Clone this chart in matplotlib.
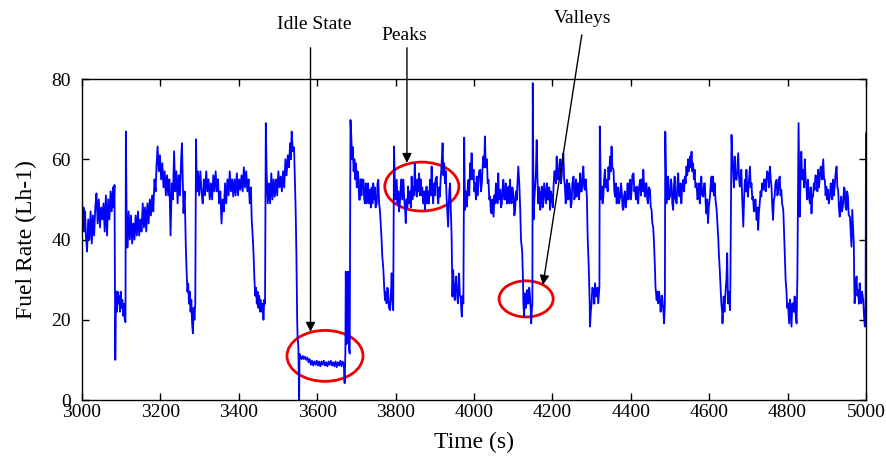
import matplotlib.pyplot as plt
from matplotlib.patches import Ellipse

plt.rcParams['font.family'] = ['Liberation Serif', 'DejaVu Serif']

# fuel rate trace as (time [s], fuel rate [L/h]) pairs, one list per drive cycle
cycle_1 = [(3000, 46), (3002, 43), (3004, 48), (3006, 42), (3008, 47), (3010, 41), (3013, 37), (3016, 45),
           (3019, 40), (3022, 47), (3025, 39), (3028, 46), (3031, 41), (3034, 48), (3037, 51.5), (3040, 44),
           (3043, 50), (3046, 43), (3049, 48), (3052, 45), (3055, 49), (3058, 42), (3061, 51), (3064, 41),
           (3067, 50), (3070, 45), (3073, 52), (3076, 47), (3079, 53), (3081, 48), (3083, 53.6), (3084, 29.5),
           (3085, 10), (3087, 27), (3089, 22), (3091, 27), (3093, 24), (3095, 26), (3097, 22), (3099, 27),
           (3101, 23), (3103, 25), (3105, 21), (3107, 24), (3109, 20), (3111, 19.4), (3112, 66.9), (3114, 45),
           (3116, 38), (3119, 47), (3122, 40), (3125, 46), (3128, 39), (3131, 44), (3134, 40), (3137, 46),
           (3140, 41), (3143, 47), (3146, 41), (3149, 45), (3152, 42), (3155, 49), (3158, 43), (3161, 48),
           (3164, 42), (3167, 49), (3170, 44), (3173, 50), (3176, 46), (3179, 51), (3182, 47), (3185, 55),
           (3188, 52), (3190, 58), (3193, 63.2), (3196, 57), (3199, 61), (3202, 55), (3205, 59), (3208, 53),
           (3211, 57), (3214, 51), (3217, 56), (3220, 51), (3223, 55), (3226, 41), (3229, 54), (3232, 50),
           (3235, 62), (3238, 52), (3241, 57), (3244, 49), (3247, 56), (3250, 51), (3253, 60), (3255, 64),
           (3257, 55), (3259, 46.6), (3262, 52), (3265, 38), (3267, 32), (3269, 27), (3271, 29), (3273, 24),
           (3275, 27), (3277, 22), (3279, 25), (3281, 19), (3283, 16.6), (3285, 23), (3287, 20), (3289, 24),
           (3291, 65)]

cycle_2 = [(3293, 52), (3296, 57), (3299, 51), (3302, 57), (3305, 52), (3308, 49), (3311, 55), (3314, 51),
           (3317, 57), (3320, 52), (3323, 55), (3326, 50), (3329, 54), (3332, 50), (3335, 56), (3338, 52),
           (3341, 57), (3344, 52), (3347, 55), (3350, 49), (3353, 52), (3356, 44), (3359, 50), (3362, 47),
           (3365, 54), (3368, 49), (3371, 55), (3374, 51), (3377, 57), (3380, 52), (3383, 55), (3386, 50.7),
           (3389, 55), (3392, 51), (3395, 56.5), (3398, 51), (3401, 55), (3404, 52.4), (3407, 56), (3410, 52),
           (3413, 58), (3416, 53), (3419, 57), (3422, 52), (3425, 55), (3428, 49), (3431, 53), (3433, 45),
           (3436, 40), (3438, 35.7), (3440, 30), (3442, 26), (3444, 28), (3446, 24), (3448, 27), (3450, 23),
           (3452, 26), (3454, 22), (3456, 25), (3459, 22), (3461, 24), (3463, 20), (3465, 25), (3467, 24),
           (3469, 69)]

cycle_3 = [(3471, 57), (3474, 49), (3477, 54), (3480, 49), (3483, 56.5), (3486, 50), (3489, 55), (3492, 50.7),
           (3495, 55), (3498, 51), (3501, 57), (3504, 53), (3507, 55.7), (3510, 52), (3513, 57), (3516, 53),
           (3519, 60), (3522, 56), (3525, 61), (3528, 58), (3531, 64), (3533, 60), (3535, 66.9), (3538, 62),
           (3541, 63), (3543, 55), (3545, 48), (3547, 36.6), (3549, 20), (3550, 15.8), (3552, 13.3), (3554, 0),
           (3555, 11.5), (3557, 10.8), (3560, 10.2), (3563, 11), (3566, 10.2), (3569, 10.8), (3572, 10),
           (3575, 10.6), (3578, 9.4), (3581, 10.2), (3584, 8.8), (3587, 9.8), (3590, 8.6), (3593, 9.6),
           (3596, 8.8), (3599, 9.8), (3602, 8.6), (3605, 9.6), (3608, 8.4), (3611, 9.6), (3614, 8.8),
           (3617, 9.8), (3620, 8.6), (3623, 9.4), (3626, 8.4), (3629, 9.6), (3632, 8.8), (3635, 9.8),
           (3638, 8.6), (3641, 9.4), (3644, 8.4), (3647, 9.6), (3650, 8.2), (3653, 9.4), (3656, 8.6),
           (3659, 9.8), (3662, 8.4), (3665, 9.6), (3668, 8.8), (3670, 4.2), (3672, 12), (3673, 32), (3675, 14),
           (3677, 20), (3679, 32), (3681, 13), (3683, 11.6), (3685, 69.8)]

cycle_4 = [(3687, 66), (3689, 60), (3691, 63), (3693, 57), (3695, 60), (3697, 55), (3699, 59), (3701, 53),
           (3703, 57), (3705, 55.7), (3707, 50), (3709, 49.9), (3711, 55), (3713, 51), (3715, 55), (3718, 54.9),
           (3720, 50), (3722, 49), (3724, 54), (3726, 49), (3728, 53), (3730, 54), (3732, 49), (3735, 52.4),
           (3737, 48), (3739, 53), (3741, 49), (3743, 54), (3745, 50), (3747, 53), (3749, 48), (3752, 49),
           (3754, 54), (3756, 54.9), (3758, 49), (3760, 47.4), (3762, 44), (3764, 40.7), (3766, 36),
           (3769, 32.4), (3771, 28), (3773, 24.9), (3775, 27), (3777, 24.1), (3779, 28), (3781, 27.4),
           (3783, 23), (3786, 22.4), (3788, 26), (3790, 31.6), (3792, 25), (3794, 22.4), (3796, 63.2)]

cycle_5 = [(3798, 55), (3800, 50), (3803, 54.9), (3805, 49), (3807, 52), (3809, 47), (3811, 49), (3813, 53),
           (3815, 55), (3817, 50), (3820, 54.9), (3822, 50), (3824, 48), (3826, 44.1), (3828, 50), (3830, 48),
           (3832, 53.2), (3834, 49), (3837, 52), (3839, 48), (3841, 55.7), (3843, 50), (3845, 53), (3847, 51),
           (3849, 59), (3851, 53), (3854, 50.7), (3856, 55), (3858, 52), (3860, 56.5), (3862, 51), (3864, 55),
           (3866, 51), (3868, 53), (3871, 49), (3873, 52), (3875, 47.4), (3877, 51), (3879, 53.2), (3881, 49),
           (3883, 52), (3885, 49), (3888, 54.9), (3890, 51), (3892, 58.2), (3894, 52), (3896, 49), (3898, 54),
           (3900, 51), (3902, 55), (3905, 55.7), (3907, 51), (3909, 49), (3911, 53), (3913, 50.7), (3915, 55),
           (3917, 58), (3920, 64), (3922, 56), (3924, 59), (3926, 54), (3928, 57), (3930, 50.7), (3932, 47),
           (3934, 43.2), (3937, 52), (3939, 54), (3941, 47), (3943, 40.7), (3945, 25.8), (3947, 32.4),
           (3949, 27), (3951, 24.9), (3953, 29), (3955, 30.8), (3957, 26), (3959, 24.1), (3961, 28),
           (3962, 31.5), (3964, 26), (3966, 25.8), (3968, 22), (3969, 20.8), (3971, 26), (3973, 24.1),
           (3975, 65.4)]

cycle_6 = [(3977, 47.4), (3979, 52), (3982, 48.2), (3984, 53), (3986, 54.9), (3988, 51), (3990, 59), (3992, 55),
           (3994, 61.5), (3996, 55), (3999, 57.4), (4001, 52), (4003, 54), (4005, 50), (4007, 55.7), (4009, 51),
           (4011, 53.2), (4013, 57), (4016, 57.4), (4018, 52), (4020, 54), (4022, 58), (4024, 60.7), (4026, 58),
           (4028, 65.7), (4030, 58), (4033, 60), (4035, 54), (4037, 54.9), (4039, 50), (4041, 50.7), (4043, 47),
           (4045, 46.5), (4047, 50), (4050, 45.7), (4052, 51), (4054, 49), (4056, 54), (4058, 53.2), (4060, 49),
           (4062, 56.5), (4064, 50), (4067, 52.4), (4069, 48), (4071, 49), (4073, 53), (4075, 54.9), (4077, 50),
           (4079, 50), (4081, 54), (4084, 49), (4086, 52), (4088, 53.2), (4090, 49), (4092, 54.9), (4094, 50),
           (4096, 49), (4098, 53), (4101, 50.7), (4103, 46), (4105, 47.4), (4107, 52), (4109, 49.9), (4111, 54),
           (4113, 58.2), (4116, 53.2), (4118, 47.4), (4120, 39.9), (4123, 37), (4125, 30), (4126, 24.1),
           (4128, 20.8), (4130, 26.6), (4132, 23), (4135, 27.4), (4137, 24), (4139, 24.1), (4141, 28),
           (4143, 25.8), (4145, 22), (4146, 19.1), (4147, 21.6), (4149, 24), (4150, 79)]

cycle_7 = [(4152, 45), (4154, 50), (4156, 53.2), (4158, 57), (4160, 64.8), (4162, 55), (4164, 49), (4166, 53),
           (4169, 47.4), (4171, 51), (4173, 53.2), (4175, 48), (4177, 49), (4179, 54), (4181, 52), (4184, 49),
           (4186, 54), (4188, 50), (4190, 50), (4192, 53), (4194, 47.4), (4196, 52), (4198, 51), (4201, 48),
           (4203, 53.2), (4205, 57), (4207, 57), (4209, 54), (4211, 60.7), (4213, 55), (4215, 55), (4218, 59),
           (4220, 60), (4222, 54), (4224, 56), (4226, 60), (4228, 61.5), (4230, 55), (4232, 53.2), (4234, 49),
           (4237, 54.9), (4239, 50), (4241, 50), (4243, 54), (4245, 52.4), (4247, 48), (4249, 49), (4251, 54),
           (4254, 55.7), (4256, 50), (4258, 51), (4260, 55), (4262, 50.7), (4264, 54), (4266, 54), (4268, 50),
           (4271, 56.5), (4273, 52), (4275, 52), (4277, 56), (4279, 58.2), (4281, 53), (4283, 52.4), (4285, 55),
           (4288, 50.7), (4290, 40.7), (4292, 35), (4293, 32.4), (4295, 25), (4296, 18.3), (4298, 22),
           (4300, 24.1), (4302, 28), (4305, 27.4), (4307, 24), (4309, 29.1), (4311, 26), (4313, 25.8),
           (4315, 28), (4317, 24.1), (4320, 28.3), (4321, 68.2)]

cycle_8 = [(4324, 50), (4326, 53.2), (4328, 49), (4330, 50.7), (4332, 55), (4334, 57.4), (4336, 53), (4339, 54.9),
           (4341, 52), (4343, 58), (4345, 55), (4347, 60.7), (4349, 57), (4351, 63.2), (4353, 58), (4356, 57.4),
           (4358, 52), (4360, 50.7), (4362, 54), (4364, 49), (4366, 52), (4368, 53), (4370, 49), (4373, 50.7),
           (4375, 54), (4377, 52), (4379, 48), (4381, 47.4), (4383, 51), (4385, 52), (4387, 48), (4390, 50.7),
           (4392, 54), (4394, 50), (4396, 52), (4398, 54.9), (4400, 50), (4402, 52), (4404, 56), (4407, 56.5),
           (4409, 52), (4411, 53), (4413, 50), (4415, 53.2), (4417, 50), (4419, 49), (4421, 53), (4424, 54.9),
           (4426, 51), (4428, 55), (4430, 52), (4432, 57.4), (4434, 53), (4436, 50.7), (4438, 54), (4440, 54),
           (4442, 50), (4444, 49), (4446, 53), (4449, 52.4), (4451, 48), (4453, 47.4), (4455, 44), (4457, 43.2),
           (4459, 40), (4460, 37.4), (4462, 32), (4463, 28.3), (4465, 26), (4466, 24.9), (4468, 27),
           (4470, 24.1), (4472, 27), (4474, 25.8), (4476, 22), (4478, 23.3), (4480, 26), (4483, 22.4),
           (4485, 19.1), (4487, 24), (4488, 66.9)]

cycle_9 = [(4491, 49), (4493, 53), (4495, 55.7), (4497, 50), (4500, 50.7), (4502, 55), (4504, 54), (4506, 49),
           (4508, 47.4), (4510, 53), (4512, 55.7), (4514, 50), (4517, 49), (4519, 54), (4521, 56.5), (4523, 51),
           (4525, 50.7), (4527, 54), (4529, 49), (4531, 53), (4534, 54.9), (4536, 52), (4538, 55.7), (4540, 54),
           (4542, 58.2), (4544, 56), (4546, 60), (4548, 57), (4551, 60.7), (4553, 58), (4555, 61.9), (4557, 57),
           (4559, 59), (4561, 55), (4563, 57.4), (4565, 53), (4568, 54), (4570, 50), (4572, 50.7), (4574, 54),
           (4576, 49), (4578, 53), (4580, 55.7), (4582, 51), (4585, 50.7), (4587, 54), (4589, 54), (4591, 49),
           (4593, 46.5), (4595, 50), (4597, 44.1), (4599, 48), (4602, 50.7), (4604, 54), (4606, 55.7),
           (4608, 52), (4610, 55.7), (4612, 51), (4614, 54), (4616, 50), (4619, 47.4), (4621, 44), (4623, 40.7),
           (4625, 36), (4627, 32.4), (4629, 28), (4631, 24.1), (4633, 22), (4634, 19.1), (4636, 24),
           (4637, 25.8), (4639, 22), (4642, 27.4), (4644, 30), (4646, 36.6), (4648, 24.1), (4650, 27),
           (4653, 22.4), (4654, 28.3), (4657, 66.1)]

cycle_10 = [(4659, 60), (4661, 57.4), (4663, 53), (4665, 60.7), (4667, 55), (4670, 54.9), (4672, 58), (4674, 61.5),
            (4676, 56), (4678, 53.2), (4680, 55), (4682, 57.4), (4684, 51), (4687, 43.2), (4689, 50), (4691, 54.9),
            (4693, 52), (4695, 57.4), (4697, 53), (4699, 50.7), (4701, 54), (4704, 58.2), (4706, 53), (4708, 54),
            (4710, 50), (4712, 50.7), (4714, 47), (4716, 47.4), (4718, 50), (4721, 44.9), (4723, 48),
            (4725, 42.4), (4727, 47), (4729, 49), (4731, 52), (4733, 50.7), (4735, 54), (4738, 52.4), (4740, 55),
            (4742, 54.9), (4744, 52), (4746, 54.9), (4748, 57), (4750, 56.5), (4752, 53), (4755, 58.2),
            (4757, 55), (4759, 53.2), (4761, 48), (4763, 44.9), (4765, 50), (4767, 50.7), (4769, 54),
            (4772, 54.9), (4774, 51), (4776, 52), (4778, 55), (4780, 55.7), (4782, 51), (4784, 52.4), (4786, 49),
            (4789, 47.4), (4791, 42), (4793, 35.7), (4795, 30), (4797, 27.4), (4799, 23), (4801, 24.1),
            (4803, 21), (4804, 19.1), (4806, 25), (4807, 24.1), (4809, 20), (4810, 18.3), (4812, 24),
            (4814, 24.1), (4816, 22), (4818, 25.8), (4820, 22), (4823, 19.1), (4825, 30.8), (4828, 69)]

cycle_11 = [(4830, 52), (4831, 45.7), (4833, 55), (4835, 61.9), (4837, 55), (4840, 57.4), (4842, 53), (4844, 60),
            (4846, 55), (4848, 53.2), (4850, 50), (4852, 54.9), (4854, 51), (4857, 49), (4859, 53), (4861, 46.5),
            (4863, 51), (4865, 50.7), (4867, 54), (4869, 52.4), (4871, 56), (4874, 55.7), (4876, 52),
            (4878, 57.4), (4880, 53), (4882, 54.9), (4884, 58), (4886, 58.2), (4888, 55), (4891, 60), (4893, 55),
            (4895, 54.9), (4897, 51), (4899, 53.2), (4901, 50), (4903, 52.4), (4905, 49), (4908, 50.7),
            (4910, 54), (4912, 53.2), (4914, 50), (4916, 54.9), (4918, 51), (4920, 53), (4922, 56), (4925, 58.2),
            (4927, 53), (4929, 52.4), (4931, 48), (4933, 45.7), (4935, 49), (4937, 50.7), (4939, 47), (4942, 49),
            (4944, 53), (4946, 52.4), (4948, 48), (4950, 47.4), (4952, 52), (4954, 50.7), (4956, 46),
            (4959, 45.7), (4961, 42), (4963, 38.2), (4965, 47.4), (4967, 43), (4969, 39.1), (4970, 30),
            (4971, 24.1), (4973, 28), (4976, 30.8), (4978, 26), (4980, 27.4), (4982, 24), (4984, 29.1),
            (4986, 25), (4988, 24.1), (4990, 27), (4993, 24.9), (4995, 21), (4997, 18.3), (4999, 22), (5000, 66.5)]

cycles = [cycle_1, cycle_2, cycle_3, cycle_4, cycle_5, cycle_6,
          cycle_7, cycle_8, cycle_9, cycle_10, cycle_11]

x_ticks = list(range(3000, 5001, 200))
y_ticks = [0, 20, 40, 60, 80]

# labelled regions: (label, arrow tail, arrow tip, text position)
callouts = [
    ("Idle State", (3583, 87.8), (3583, 17.0), (3592, 93.5)),
    ("Peaks", (3829, 87.8), (3829, 59.1), (3821, 90.8)),
    ("Valleys", (4275, 91.0), (4176, 28.7), (4276, 95.0)),
]
# circled regions: (centre time, centre rate, width s, height L/h)
rings = [
    (3620, 11.0, 194, 12.7),
    (3867, 53.2, 189, 12.2),
    (4133, 25.2, 138, 9.0),
]

time_s = [t for c in cycles for t, _ in c]
fuel_rate = [v for c in cycles for _, v in c]

fig = plt.figure(figsize=(8.87, 4.59), dpi=100)
ax = fig.add_axes([0.0924, 0.1285, 0.8839, 0.6993])

ax.plot(time_s, fuel_rate, color='#0000ff', lw=1.3)

for cx, cy, w, h in rings:
    ax.add_patch(Ellipse((cx, cy), w, h, fill=False, edgecolor='#ee0000', lw=2))

for label, tail, tip, pos in callouts:
    ax.annotate('', xy=tip, xytext=tail, annotation_clip=False,
                arrowprops=dict(arrowstyle='-|>', color='black', lw=1,
                                mutation_scale=14, shrinkA=0, shrinkB=0))
    ax.text(pos[0], pos[1], label, ha='center', va='center', fontsize=14, clip_on=False)

ax.set_xlim(3000, 5000)
ax.set_ylim(0, 80)
ax.set_xticks(x_ticks)
ax.set_yticks(y_ticks)
ax.tick_params(direction='in', top=True, right=True, length=5, width=1, labelsize=14)
ax.tick_params(axis='x', pad=3)
ax.tick_params(axis='y', pad=8)
for s in ax.spines.values():
    s.set_linewidth(1)

ax.set_xlabel('Time (s)', fontsize=17, labelpad=8)
ax.set_ylabel('Fuel Rate (Lh-1)', fontsize=17, labelpad=10)

fig.savefig('out.png', dpi=100)
